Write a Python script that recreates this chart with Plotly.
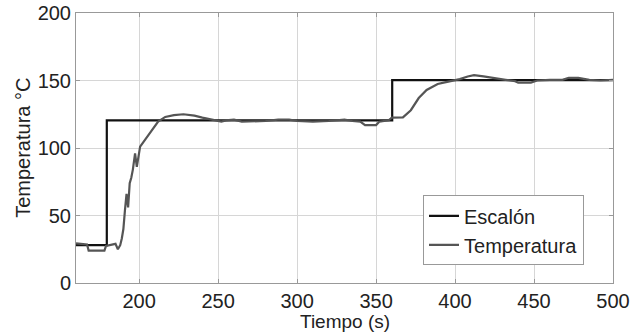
import plotly.graph_objects as go

# Step (setpoint) series
step_t = [160, 179.5, 179.5, 360.2, 360.2, 500]
step_v = [28, 28, 120.5, 120.5, 150.3, 150.3]

# Measured temperature series
temp_t = [160, 163, 167, 168, 178, 179, 182, 185, 186.5, 188, 189, 190, 191, 192, 193,
          194, 195, 196, 197.4, 198.5, 200.6, 203.7, 208, 212, 216.5, 222, 228, 235, 240,
          247, 252, 255, 260, 265, 270, 280, 288, 295, 300, 310, 320, 330, 335, 340, 343,
          350, 352, 358, 360, 367, 372, 377, 382, 389, 395, 403, 408, 412, 418, 425, 432,
          438, 440, 448, 452, 460, 468, 472, 478, 485, 492, 500]
temp_v = [29.4, 29, 28.5, 24, 24, 27.5, 28, 29, 25, 28, 33, 40, 54, 66, 56,
          74, 78, 84, 96, 86, 101, 106, 113, 119.5, 123, 124.4, 125, 124, 122.5,
          120.5, 119.5, 120.5, 121, 119.5, 119.5, 120, 121, 121, 120, 119.5, 120, 121, 120, 119.5, 117,
          117, 119.5, 120.5, 122.5, 122.7, 128, 137, 143, 147.4, 149, 151, 153, 154, 153, 151.5, 150.5,
          149.5, 148.4, 148.4, 150, 150.5, 150.5, 152, 152, 150.5, 150, 150.5]

x_ticks = [200, 250, 300, 350, 400, 450, 500]
y_ticks = [0, 50, 100, 150, 200]
x_title = "Tiempo (s)"
y_title = "Temperatura °C"

font_family = "Liberation Sans, Arial, sans-serif"
fs = 20

fig = go.Figure()
fig.add_trace(go.Scatter(x=step_t, y=step_v, mode="lines", name="Escalón",
                         line=dict(color="#111111", width=2.2)))
fig.add_trace(go.Scatter(x=temp_t, y=temp_v, mode="lines", name="Temperatura",
                         line=dict(color="#555555", width=2.2)))

fig.update_layout(
    width=642, height=333,
    margin=dict(l=76, r=29, t=13, b=50),
    paper_bgcolor="white", plot_bgcolor="white",
    font=dict(family=font_family, size=fs, color="#222222"),
    showlegend=True,
    legend=dict(x=0.946, y=0.065, xanchor="right", yanchor="bottom",
                bgcolor="white", bordercolor="#999999", borderwidth=1,
                font=dict(size=fs), tracegroupgap=0, itemwidth=30),
    xaxis=dict(range=[160, 500], tickvals=x_ticks, showgrid=True, gridcolor="#d6d6d6",
               gridwidth=1, showline=True, linecolor="#999999", linewidth=1, mirror="ticks",
               ticks="inside", ticklen=4, tickcolor="#999999", zeroline=False,
               ticklabelstandoff=0, automargin=False, tickfont=dict(size=fs)),
    yaxis=dict(range=[0, 200], tickvals=y_ticks, showgrid=True, gridcolor="#d6d6d6",
               gridwidth=1, showline=True, linecolor="#999999", linewidth=1, mirror="ticks",
               ticks="inside", ticklen=4, tickcolor="#999999", zeroline=False,
               automargin=False, tickfont=dict(size=fs)),
    annotations=[
        dict(text=x_title, xref="paper", yref="paper", x=0.5, y=-0.142,
             xanchor="center", yanchor="middle", showarrow=False, font=dict(size=19)),
        dict(text=y_title, xref="paper", yref="paper", x=-0.099, y=0.5,
             xanchor="center", yanchor="middle", showarrow=False, textangle=-90,
             font=dict(size=fs)),
    ],
)

fig.write_html("out.html")
